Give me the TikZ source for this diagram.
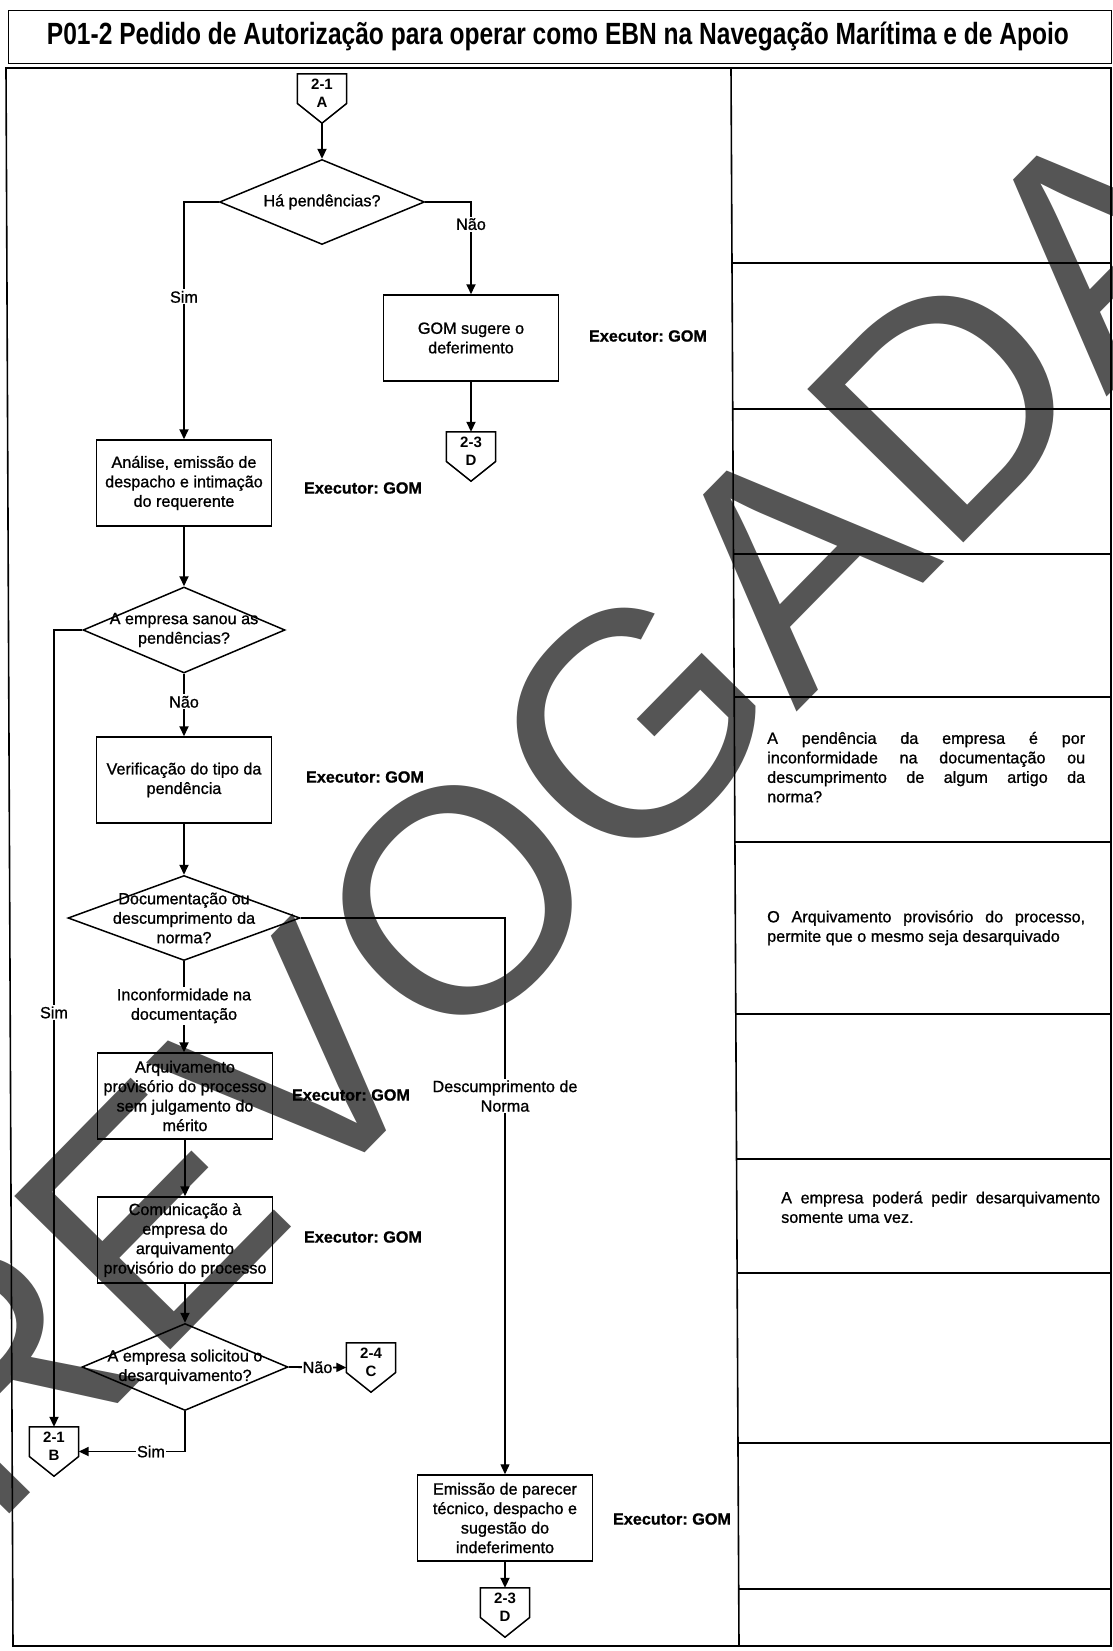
\documentclass[tikz,border=0pt]{standalone}
\usepackage{fontspec}
\usepackage{graphicx}
\setmainfont{Liberation Sans}
\newfontfamily\flowfam{Liberation Sans}[FakeBold=1]
\usetikzlibrary{shapes.geometric,arrows.meta,calc}
\definecolor{wmgray}{RGB}{85,85,85}
\newcommand\flowfont{\flowfam\fontsize{16.2pt}{19.5pt}\selectfont\frenchspacing}
\newcommand\wmfont{\fontsize{318pt}{318pt}\selectfont}
\begin{document}
\begin{tikzpicture}[x=1pt,y=-1pt,
  box/.style={draw,line width=1.5pt,minimum width=175pt,minimum height=86pt,align=center,inner sep=1pt,font=\flowfont},
  dia/.style={draw,diamond,line width=1.5pt,inner sep=0pt},
  dtxt/.style={font=\flowfont,align=center,inner sep=0pt},
  exe/.style={font=\flowfont\bfseries,inner sep=0pt},
  lab/.style={font=\flowfont,fill=white,inner sep=1.5pt,align=center},
  offp/.style={minimum width=49pt,minimum height=49pt,inner sep=0pt},
  offt/.style={font=\fontsize{15pt}{18pt}\selectfont\bfseries,align=center,inner sep=0pt},
  arr/.style={line width=1.8pt,-{Triangle[length=10pt,width=9pt]}},
  note/.style={font=\flowfont,text width=318pt,align=justify,inner sep=0pt,anchor=north west},
  wm/.style={font=\wmfont,text=wmgray,rotate=45.5,inner sep=0pt,anchor=base},
  rulel/.style={line width=1.6pt}
]
\useasboundingbox (0,0) rectangle (1113,1651);
\fill[white] (0,0) rectangle (1113,1651);

% watermark (underneath)
\begin{scope}
\clip (0,0) rectangle (1113,1651);
\foreach \l/\t [count=\i] in {R/-433,E/-212.1,V/0,O/229.8,G/477.2,A/707,D/927.9,A/1148.8}
  \node[wm] (wm\i) at ({375.6+0.7009*\t},{1141.4-0.7133*\t}) {\l};
\end{scope}

% frame and table
\draw[line width=1pt] (8,11) rectangle (1111,64);
\node (title) at (558,37) {\resizebox{1022pt}{22.5pt}{\bfseries P01-2 Pedido de Autorização para operar como EBN na Navegação Marítima e de Apoio}};
\draw[rulel] (6,68) -- (1111,68) -- (1111,1646) -- (13,1646) -- cycle;
\draw[rulel] (731,68) -- (739,1646);
\foreach \y in {263,409,554,697,842,1014,1159,1273,1443,1589}
  \draw[rulel] ({731+8*(\y-68)/1578},\y) -- (1111,\y);

% notes
\node[note] (n1) at (767,730) {\hyphenpenalty=10000\tolerance=10000\strut A pendência da empresa é por\linebreak inconformidade na documentação ou\linebreak descumprimento de algum artigo da\linebreak norma?};
\node[note] (n2) at (767,908.5) {\hyphenpenalty=10000\tolerance=10000\strut O Arquivamento provisório do processo,\linebreak permite que o mesmo seja desarquivado};
\node[note,text width=319pt] (n3) at (781,1189.5) {\hyphenpenalty=10000\tolerance=10000\strut A empresa poderá pedir desarquivamento\linebreak somente uma vez.};

% flow nodes
\node[offp] (cA) at (322,98.5) {};
\node[offt] (cAt) at ($(cA.center)+(0,-5.5)$) {2-1\\A};
\node[dia,minimum width=205pt,minimum height=85pt] (d1) at (322,202) {};
\node[dtxt] (d1t) at (d1.center) {Há pendências?};
\node[box] (gom) at (471,338) {GOM sugere o\\deferimento};
\node[exe] (ex1) at (648,336) {Executor: GOM};
\node[offp] (cD1) at (471,456.5) {};
\node[offt] (cD1t) at ($(cD1.center)+(0,-5.5)$) {2-3\\D};
\node[box] (an) at (184,483) {Análise, emissão de\\despacho e intimação\\do requerente};
\node[exe] (ex2) at (363,488) {Executor: GOM};
\node[dia,minimum width=202pt,minimum height=86pt] (d2) at (184,630) {};
\node[dtxt] (d2t) at (d2.center) {A empresa sanou as\\pendências?};
\node[box] (ve) at (184,780) {Verificação do tipo da\\pendência};
\node[exe] (ex3) at (365,777) {Executor: GOM};
\node[dia,minimum width=232pt,minimum height=85pt] (d3) at (184,918) {};
\node[dtxt] (d3t) at (d3.center) {Documentação ou\\descumprimento da\\norma?};
\node[box] (ar) at (185,1096) {Arquivamento\\provisório do processo\\sem julgamento do\\mérito};
\node[exe] (ex4) at (351,1095) {Executor: GOM};
\node[box] (co) at (185,1240) {Comunicação à\\empresa do\\arquivamento\\provisório do processo};
\node[exe] (ex5) at (363,1237) {Executor: GOM};
\node[dia,minimum width=206pt,minimum height=87pt] (d4) at (185,1367) {};
\node[dtxt] (d4t) at (d4.center) {A empresa solicitou o\\desarquivamento?};
\node[offp] (cC) at (371,1367.5) {};
\node[offt] (cCt) at ($(cC.center)+(0,-5.5)$) {2-4\\C};
\node[offp] (cB) at (54,1451.5) {};
\node[offt] (cBt) at ($(cB.center)+(0,-5.5)$) {2-1\\B};
\node[box] (em) at (505,1518) {Emissão de parecer\\técnico, despacho e\\sugestão do\\indeferimento};
\node[exe] (ex6) at (672,1519) {Executor: GOM};
\node[offp] (cD2) at (505,1612.5) {};
\node[offt] (cD2t) at ($(cD2.center)+(0,-5.5)$) {2-3\\D};

% off-page connector outlines
\foreach \n in {cA,cD1,cB,cC,cD2}
  \draw[line width=1.5pt,line join=miter] (\n.north west) -- (\n.north east) -- ($(\n.north east)!0.6!(\n.south east)$) -- (\n.south) -- ($(\n.north west)!0.6!(\n.south west)$) -- cycle;

% connectors
\draw[arr,line width=2.2pt] (cA.south) -- (d1.north);
\draw[arr] (d1.west) -| node[lab,pos=0.7] (l1) {Sim} (an.north);
\draw[arr] (d1.east) -| node[lab,pos=0.62] (l2) {Não} (gom.north);
\draw[arr] (gom.south) -- (cD1.north);
\draw[arr] (an.south) -- (d2.north);
\draw[arr] (d2.west) -| node[lab,pos=0.74] (l3) {Sim} (cB.north);
\draw[arr] (d2.south) -- node[lab,pos=0.45] (l4) {Não} (ve.north);
\draw[arr] (ve.south) -- (d3.north);
\draw[arr] (d3.south) -- node[lab,pos=0.49] (l5) {Inconformidade na\\documentação} (d3.south |- ar.north);
\draw[arr,line width=1.3pt] (d3.east) -| node[lab,pos=0.66] (l6) {Descumprimento de\\Norma} (em.north);
\draw[arr] (ar.south) -- (co.north);
\draw[arr] (co.south) -- (d4.north);
\draw[arr] (d4.east) -- node[lab,inner sep=0.5pt] (l7) {Não} (cC.west);
\draw[arr] (d4.south) |- node[lab,pos=0.66] (l8) {Sim} (cB.east);
\draw[arr] (em.south) -- (cD2.north);
\end{tikzpicture}
\end{document}
